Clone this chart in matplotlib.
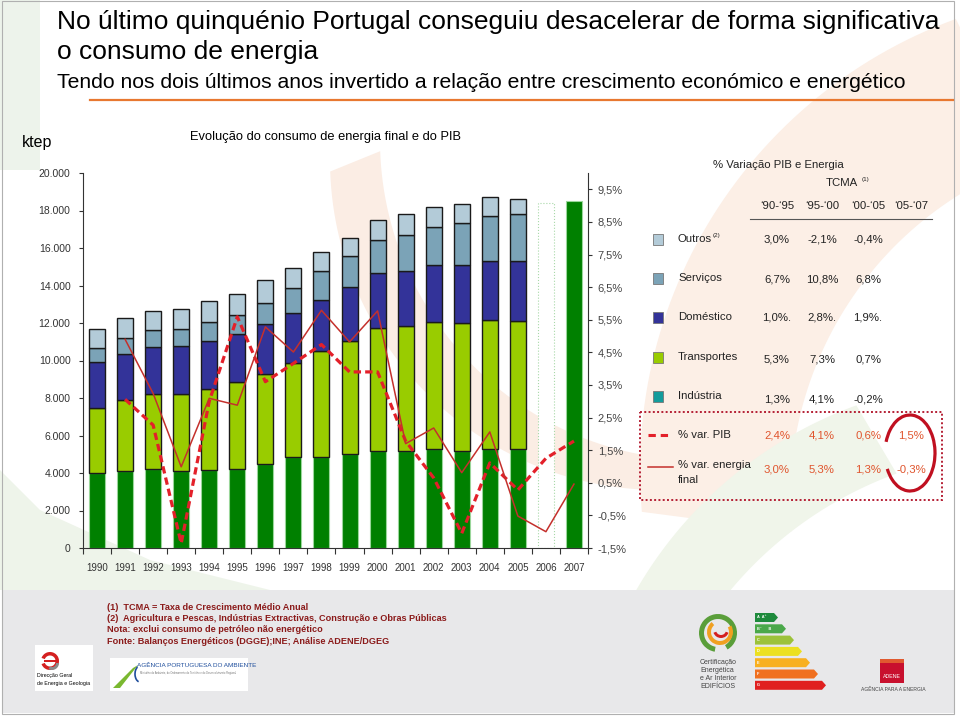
import matplotlib
matplotlib.use('Agg')
import matplotlib.pyplot as plt
import matplotlib.font_manager as fm
import numpy as np
from matplotlib.patches import Rectangle, Arc, Polygon, Wedge

plt.rcParams['font.family'] = ['Liberation Sans', 'DejaVu Sans']

# ---- dados (ktep) ----
anos = list(range(1990, 2008))
industria   = [3980, 4110, 4195, 4090, 4180, 4230, 4480, 4835, 4870, 5015, 5155, 5190, 5260, 5155, 5300, 5260]
transportes = [3500, 3785, 4035, 4140, 4320, 4620, 4820, 5050, 5620, 6010, 6560, 6650, 6810, 6825, 6860, 6830]
domestico   = [2455, 2435, 2490, 2525, 2540, 2545, 2650, 2665, 2755, 2880, 2935, 2935, 3020, 3110, 3165, 3235]
servicos    = [745, 870, 905, 940, 1030, 1030, 1135, 1300, 1530, 1655, 1760, 1940, 2010, 2225, 2400, 2490]
outros      = [980, 1050, 1015, 1050, 1085, 1100, 1190, 1065, 1030, 975, 1065, 1085, 1100, 1030, 1015, 820]
# 2006 e 2007 sem desagregacao por sector
total_2006 = 18420
total_2007 = 18490

# % variacao anual (1991-2007)
var_pib     = [3.06, 2.27, -1.36, 3.0, 5.59, 3.60, 4.16, 4.74, 3.90, 3.90, 1.78, 0.65, -1.05, 1.11, 0.28, 1.25, 1.78]
var_energia = [4.90, 3.24, 0.99, 3.09, 2.88, 5.28, 4.51, 5.79, 4.82, 5.77, 1.70, 2.18, 0.81, 2.06, -0.52, -1.00, 0.46]

# tabela TCMA
sectores = ['Outros', 'Serviços', 'Doméstico', 'Transportes', 'Indústria']
periodos = ['‘90-‘95', '‘95-‘00', '‘00-‘05', '‘05-‘07']
tcma_sectores = [['3,0%', '-2,1%', '-0,4%'],
                 ['6,7%', '10,8%', '6,8%'],
                 ['1,0%.', '2,8%.', '1,9%.'],
                 ['5,3%', '7,3%', '0,7%'],
                 ['1,3%', '4,1%', '-0,2%']]
tcma_pib = ['2,4%', '4,1%', '0,6%', '1,5%']
tcma_energia = ['3,0%', '5,3%', '1,3%', '-0,3%']

notas = ['(1)  TCMA = Taxa de Crescimento Médio Anual',
         '(2)  Agricultura e Pescas, Indústrias Extractivas, Construção e Obras Públicas',
         'Nota: exclui consumo de petróleo não energético',
         'Fonte: Balanços Energéticos (DGGE);INE; Análise ADENE/DGEG']

# cores
c_ind = '#008000'
c_tr = '#99cc00'
c_dom = '#333399'
c_serv = '#7ba3b7'
c_out = '#b3cbd8'
c_pib = '#e3202a'
c_ene = '#c4302c'
cores_leg = [c_out, c_serv, c_dom, c_tr, '#139c9c']

fig = plt.figure(figsize=(9.6, 7.16), dpi=100)

# ---- fundo (coordenadas em pixels) ----
bg = fig.add_axes([0, 0, 1, 1], zorder=0)
bg.set_xlim(0, 960)
bg.set_ylim(716, 0)
bg.axis('off')


def crescente(c1, r1, c2, r2, t0, t1, **kw):
    t = np.radians(np.linspace(t0, t1, 60))
    p1 = np.c_[c1[0] + r1 * np.cos(t), c1[1] + r1 * np.sin(t)]
    p2 = np.c_[c2[0] + r2 * np.cos(t[::-1]), c2[1] + r2 * np.sin(t[::-1])]
    bg.add_patch(Polygon(np.vstack([p1, p2]), closed=True, lw=0, **kw))


# faixas decorativas (suaves)
bg.add_patch(Rectangle((0, 0), 40, 170, color='#edf3eb', lw=0))
crescente((660, 160), 330, (700, 140), 320, 178, 92, color='#fbede4')
crescente((1120, 470), 480, (1150, 500), 360, 175, 250, color='#fcefe6')
bg.add_patch(Polygon([(0, 470), (0, 590), (270, 590), (150, 560), (40, 510)], color='#eef4ea', lw=0))
crescente((1000, 800), 420, (1030, 840), 390, 200, 250, color='#f0f5ea')

# titulo
bg.text(57, 22, 'No último quinquénio Portugal conseguiu desacelerar de forma significativa',
        fontsize=19, va='center', ha='left')
bg.text(57, 52, 'o consumo de energia', fontsize=19, va='center', ha='left')
bg.text(57, 82, 'Tendo nos dois últimos anos invertido a relação entre crescimento económico e energético',
        fontsize=15.2, va='center', ha='left')
bg.plot([90, 953], [100, 100], color='#e87830', lw=1.6)
bg.text(22, 143, 'ktep', fontsize=11.5, va='center', ha='left')
bg.text(190, 137, 'Evolução do consumo de energia final e do PIB', fontsize=9.3, va='center', ha='left')

# tabela / legenda
fs = 8.2
bg.text(778, 165, '% Variação PIB e Energia', fontsize=fs, ha='center', va='center', color='#222')
bg.text(826, 183, 'TCMA', fontsize=fs, ha='left', va='center', color='#222')
bg.text(862, 180, '(1)', fontsize=4.5, ha='left', va='center', color='#222')
col_x = [777, 822, 868, 911]
for cx, p in zip(col_x, periodos):
    bg.text(cx, 206, p, fontsize=fs, ha='center', va='center', color='#222')
bg.plot([750, 932], [219, 219], color='#555', lw=0.8)

linhas_y = [239, 278, 317, 357, 396]
valores_y = [240, 279, 318, 360, 400]
for i, nome in enumerate(sectores):
    y = linhas_y[i]
    bg.add_patch(Rectangle((653, y - 5.5), 10, 11, facecolor=cores_leg[i], edgecolor='#777', lw=0.6))
    bg.text(678, y, nome, fontsize=fs, ha='left', va='center', color='#222')
    for cx, v in zip(col_x, tcma_sectores[i]):
        bg.text(cx, valores_y[i], v, fontsize=fs, ha='center', va='center', color='#222')
bg.text(713, 236, '(2)', fontsize=4.5, ha='left', va='center', color='#222')

bg.plot([648, 670], [435, 435], color=c_pib, lw=2.2, dashes=(2.4, 1.6))
bg.text(678, 435, '% var. PIB', fontsize=fs, ha='left', va='center', color='#222')
bg.plot([648, 673], [467, 467], color=c_ene, lw=1.1)
bg.text(678, 465, '% var. energia', fontsize=fs, ha='left', va='center', color='#222')
bg.text(678, 480, 'final', fontsize=fs, ha='left', va='center', color='#222')
for cx, v in zip(col_x, tcma_pib):
    bg.text(cx, 435, v, fontsize=fs, ha='center', va='center', color='#e0552e')
for cx, v in zip(col_x, tcma_energia):
    bg.text(cx, 469, v, fontsize=fs, ha='center', va='center', color='#e0552e')
bg.add_patch(Rectangle((640, 412), 302, 88, fill=False, edgecolor='#b52035', ls=(0, (1, 1.2)), lw=1.4))
bg.add_patch(Arc((910, 453), 50, 76, theta1=205, theta2=505, color='#c01020', lw=2.3))

# faixa inferior
bg.add_patch(Rectangle((3, 590), 952, 123, color='#e8e8ea', lw=0))
bg.add_patch(Rectangle((2, 1), 952, 713, fill=False, edgecolor='#b0b0b0', lw=0.8))

nomes = {f.name for f in fm.fontManager.ttflist}
if 'Liberation Sans Narrow' in nomes:
    fam_nota, fs_nota = ['Liberation Sans Narrow', 'Liberation Sans'], 7.65
else:
    fam_nota, fs_nota = ['Liberation Sans', 'DejaVu Sans'], 6.6
for i, t in enumerate(notas):
    bg.text(107, 607 + i * 11.5, t, fontsize=fs_nota, family=fam_nota, fontweight='bold',
            color='#8b1a1a', ha='left', va='center')

# logotipos (aproximados)
bg.add_patch(Rectangle((35, 645), 58, 46, color='white', lw=0))
bg.add_patch(Wedge((50, 661), 9, 200, 520, width=3.5, color='#d42020', lw=0))
bg.add_patch(Rectangle((44, 659.5), 12, 2.5, color='#d42020', lw=0))
bg.add_patch(Wedge((52, 663), 7, 0, 120, width=3, color='#8a8a8a', lw=0))
bg.text(37, 676, 'Direcção Geral', fontsize=3.8, ha='left', va='center')
bg.text(37, 683, 'de Energia e Geologia', fontsize=3.8, ha='left', va='center')

bg.add_patch(Rectangle((110, 658), 138, 33, color='white', lw=0))
bg.add_patch(Polygon([(113, 688), (120, 688), (138, 665), (133, 668)], color='#7ab830', lw=0))
bg.add_patch(Arc((140, 674), 10, 16, theta1=100, theta2=250, color='#1f4e9c', lw=1.2))
bg.text(137, 665, 'AGÊNCIA PORTUGUESA DO AMBIENTE', fontsize=4.6, color='#1f4e9c', ha='left', va='center')
bg.text(140, 673, 'Ministério do Ambiente, do Ordenamento do Território e do Desenvolvimento Regional',
        fontsize=1.8, color='#777', ha='left', va='center')

bg.add_patch(Wedge((718, 633), 19, 100, 420, width=5, color='#5a9e3a', lw=0))
bg.add_patch(Wedge((720, 632), 13, 330, 230, width=4, color='#f0a020', lw=0))
bg.add_patch(Wedge((721, 630), 8, 20, 160, width=3, color='#d42020', lw=0))
for i, t in enumerate(['Certificação', 'Energética', 'e Ar Interior', 'EDIFÍCIOS']):
    bg.text(700, 662 + i * 8, t, fontsize=5, color='#444', ha='left', va='center')

cores_classe = ['#1e8a3c', '#4aa84a', '#9cc23a', '#ece020', '#f8b020', '#f07020', '#e02020']
letras = ['A  A⁺', 'B⁻      B', 'C', 'D', 'E', 'F', 'G']
for i, (cc, lt) in enumerate(zip(cores_classe, letras)):
    y0 = 613 + i * 11.3
    comp = 23 + i * 8
    bg.add_patch(Polygon([(755, y0), (755 + comp - 4, y0), (755 + comp, y0 + 4.5),
                          (755 + comp - 4, y0 + 9), (755, y0 + 9)], color=cc, lw=0))
    bg.text(757, y0 + 4.5, lt, fontsize=2.8, color='white', ha='left', va='center', fontweight='bold')

bg.add_patch(Rectangle((880, 659), 24, 24, color='#c8102e', lw=0))
bg.add_patch(Rectangle((880, 659), 24, 4, color='#e05a30', lw=0))
bg.text(892, 677, 'ADENE', fontsize=3.8, color='white', ha='center', va='center')
bg.text(893, 689, 'AGÊNCIA PARA A ENERGIA', fontsize=3.6, color='#444', ha='center', va='center')

# ---- grafico ----
ax = fig.add_axes([83 / 960, (716 - 548) / 716, (588 - 83) / 960, (548 - 173) / 716], zorder=2)
ax.patch.set_visible(False)
x = np.arange(len(anos))
n = len(industria)
w = 0.57
ax.bar(x[:n], industria, w, color=c_ind, edgecolor='#9ad69a', lw=0.8)
base = np.array(industria, dtype=float)
for vals, col in [(transportes, c_tr), (domestico, c_dom), (servicos, c_serv), (outros, c_out)]:
    ax.bar(x[:n], vals, w, bottom=base, color=col, edgecolor='#1a1a1a', lw=1.0)
    base = base + np.array(vals)
ax.bar(x[16], total_2006, w, color='white', edgecolor='#a8d8a8', lw=0.8, ls=':')
ax.bar(x[17], total_2007, w, color=c_ind, edgecolor='#9ad69a', lw=0.8)

ax.set_xlim(-0.5, len(anos) - 0.5)
ax.set_ylim(0, 20000)
ax.set_yticks(range(0, 20001, 2000))
ax.set_yticklabels([f'{v:,}'.replace(',', '.') for v in range(0, 20001, 2000)])
ax.set_xticks(np.arange(-0.5, len(anos), 1.0))
ax.set_xticklabels([])
ax.set_xticks(x, minor=True)
ax.set_xticklabels([str(a) for a in anos], minor=True)
ax.tick_params(axis='x', which='major', length=4, color='#333')
ax.tick_params(axis='x', which='minor', length=0, pad=11, labelsize=7, labelcolor='#333')
ax.tick_params(axis='y', length=3, labelsize=7.5, labelcolor='#333', pad=6, color='#333')
for s in ['top', 'right']:
    ax.spines[s].set_visible(False)
for s in ['left', 'bottom']:
    ax.spines[s].set_color('#333')

ax2 = ax.twinx()
ax2.plot(x[1:], var_pib, color=c_pib, lw=2.3, dashes=(2.3, 1.3))
ax2.plot(x[1:], var_energia, color=c_ene, lw=1.1)
ax2.set_ylim(-1.5, 10.0)
tk = np.arange(-1.5, 9.6, 1.0)
ax2.set_yticks(tk)
ax2.set_yticklabels([f'{v:.1f}%'.replace('.', ',') for v in tk])
ax2.tick_params(axis='y', length=3, labelsize=8, labelcolor='#444', pad=4, color='#333')
for s in ['top', 'left', 'bottom']:
    ax2.spines[s].set_visible(False)
ax2.spines['right'].set_color('#333')

fig.savefig('out.png', dpi=100)
